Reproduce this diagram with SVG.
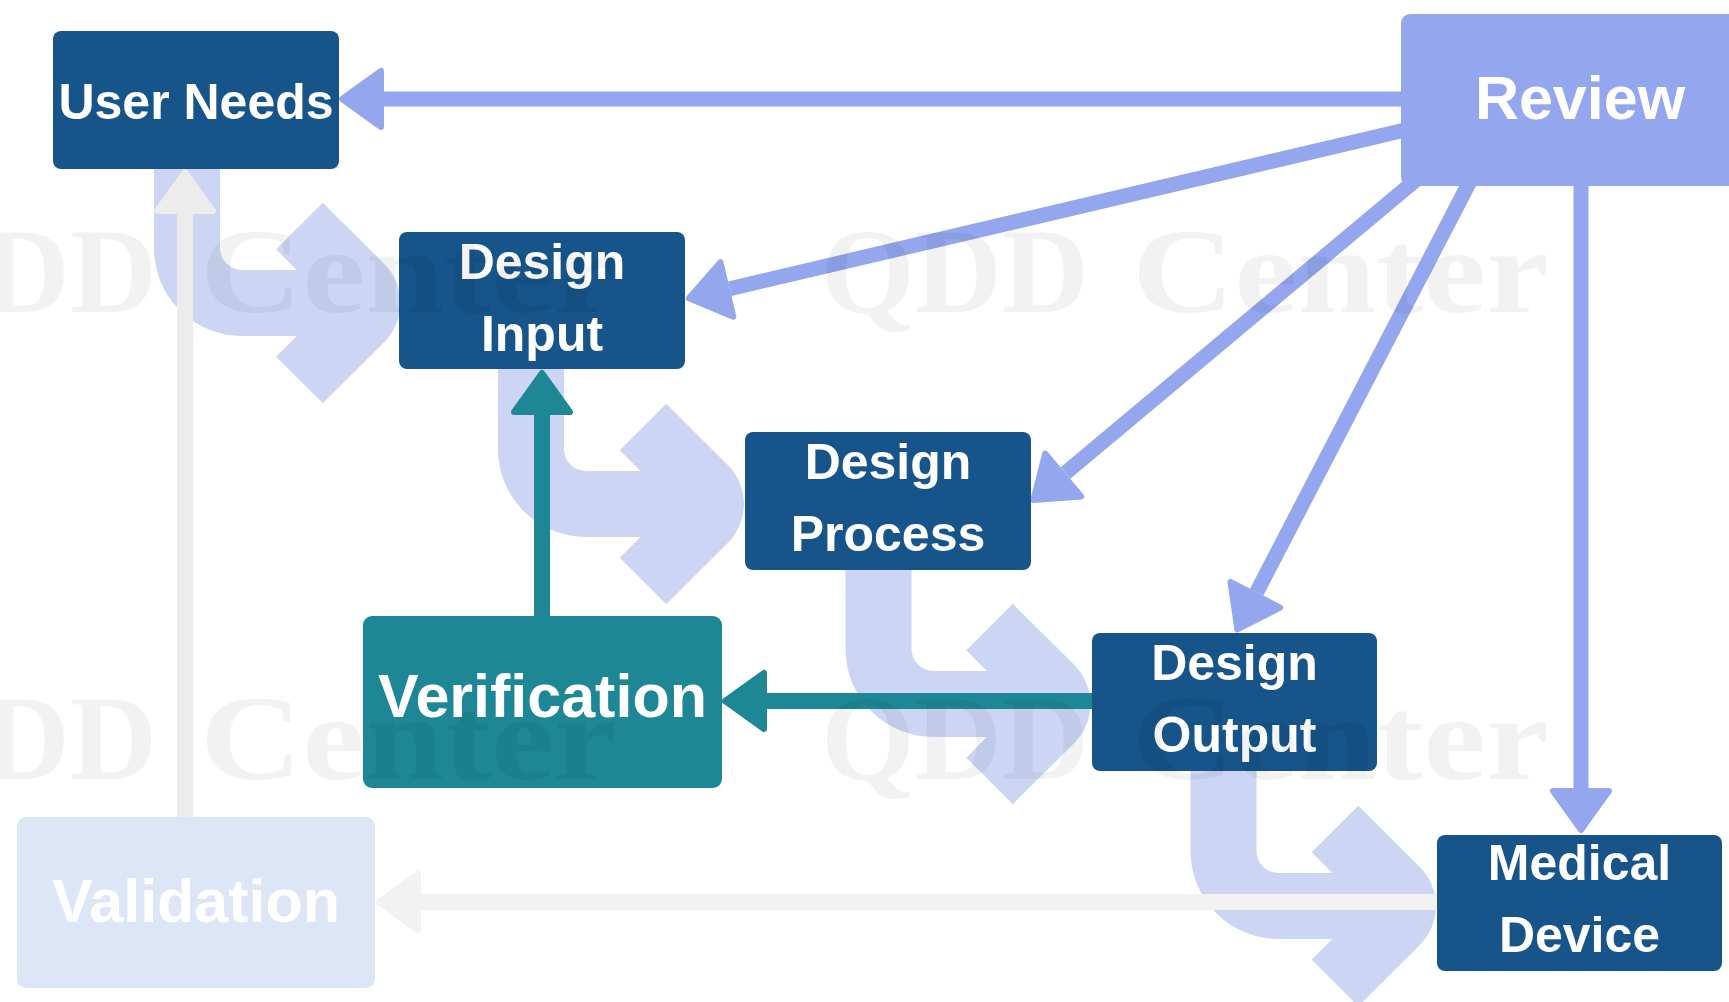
<svg xmlns="http://www.w3.org/2000/svg" width="1729" height="1002" viewBox="0 0 1729 1002">
<defs>
<style>
.hook{fill:none;stroke:#CCD5F3;stroke-width:66;stroke-linecap:butt}
.chev{fill:#CCD5F3;stroke:none}
.lb{fill:none;stroke:#93A6EE;stroke-width:15}
.lt{fill:none;stroke:#1D8795;stroke-width:16}
.lg1{fill:none;stroke:#F2F2F2;stroke-width:16}
.lg2{fill:none;stroke:#ECECEC;stroke-width:16}
.box{fill:#16548A}
.t{font-family:"Liberation Sans",Arial,sans-serif;font-weight:bold;fill:#FFFFFF;text-anchor:middle}
.t50{font-size:50px}
.t61{font-size:61px}
.wm{font-family:"Liberation Serif","Times New Roman",serif;font-weight:bold;font-size:120px;fill:#000000;fill-opacity:0.05}
</style>
<marker id="ab" markerUnits="userSpaceOnUse" markerWidth="60" markerHeight="80" refX="0" refY="0" orient="auto" overflow="visible"><path d="M3,-28 L42,0 L3,28 Z" fill="#93A6EE" stroke="#93A6EE" stroke-width="6" stroke-linejoin="round"/></marker>
<marker id="at" markerUnits="userSpaceOnUse" markerWidth="60" markerHeight="80" refX="0" refY="0" orient="auto" overflow="visible"><path d="M3,-28 L42,0 L3,28 Z" fill="#1D8795" stroke="#1D8795" stroke-width="6" stroke-linejoin="round"/></marker>
<marker id="ag1" markerUnits="userSpaceOnUse" markerWidth="60" markerHeight="80" refX="0" refY="0" orient="auto" overflow="visible"><path d="M3,-28 L42,0 L3,28 Z" fill="#F2F2F2" stroke="#F2F2F2" stroke-width="6" stroke-linejoin="round"/></marker>
<marker id="ag2" markerUnits="userSpaceOnUse" markerWidth="60" markerHeight="80" refX="0" refY="0" orient="auto" overflow="visible"><path d="M3,-28 L42,0 L3,28 Z" fill="#ECECEC" stroke="#ECECEC" stroke-width="6" stroke-linejoin="round"/></marker>
</defs>
<rect width="1729" height="1002" fill="#FFFFFF"/>
<g id="connectors">
<path class="hook" d="M187,169 V248 A55,55 0 0 0 242,303 H356"/>
<path class="chev" d="M322.8,202.7 L384.3,264.1 A55,55 0 0 1 384.3,341.9 L322.8,403.3 L276.2,356.7 L329.8,303 L276.2,249.3 Z"/>
<path class="hook" d="M531,369 V449 A55,55 0 0 0 586,504 H700"/>
<path class="chev" d="M666.3,403.7 L727.8,465.1 A55,55 0 0 1 727.8,542.9 L666.3,604.3 L619.7,557.7 L673.3,504 L619.7,450.3 Z"/>
<path class="hook" d="M878.5,570 V649 A55,55 0 0 0 933.5,704 H1046"/>
<path class="chev" d="M1012.8,603.7 L1074.3,665.1 A55,55 0 0 1 1074.3,742.9 L1012.8,804.3 L966.2,757.7 L1019.8,704 L966.2,650.3 Z"/>
<path class="hook" d="M1223.5,771 V851 A55,55 0 0 0 1278.5,906 H1392"/>
<path class="chev" d="M1358.3,805.7 L1419.8,867.1 A55,55 0 0 1 1419.8,944.9 L1358.3,1006.3 L1311.7,959.7 L1365.3,906 L1311.7,852.3 Z"/>
<line class="lb" x1="1410" y1="99" x2="384" y2="99" marker-end="url(#ab)"/>
<line class="lb" x1="1420" y1="126.5" x2="729.8" y2="288.7" marker-end="url(#ab)"/>
<line class="lb" x1="1420" y1="176.5" x2="1065.5" y2="473.1" marker-end="url(#ab)"/>
<line class="lb" x1="1472.2" y1="177" x2="1256.7" y2="592.1" marker-end="url(#ab)"/>
<line class="lb" x1="1581" y1="180" x2="1581" y2="788" marker-end="url(#ab)"/>
<line class="lt" x1="542" y1="620" x2="542" y2="415" marker-end="url(#at)"/>
<line class="lt" x1="1096" y1="701" x2="767" y2="701" marker-end="url(#at)"/>
<line class="lg1" x1="1441" y1="902" x2="421" y2="902" marker-end="url(#ag1)"/>
<line class="lg2" x1="185" y1="821" x2="185" y2="214" marker-end="url(#ag2)"/>
</g>
<g id="review">
<rect x="1401" y="14" width="360" height="172" rx="9" fill="#93A6EE"/>
<text class="t t61" x="1580" y="119">Review</text>
</g>
<g id="user-needs">
<rect class="box" x="53" y="31" width="286" height="138" rx="8"/>
<text class="t t50" x="196" y="119">User Needs</text>
</g>
<g id="design-input">
<rect class="box" x="399" y="232" width="286" height="137" rx="8"/>
<text class="t t50" x="542" y="279">Design</text>
<text class="t t50" x="542" y="351">Input</text>
</g>
<g id="design-process">
<rect class="box" x="745" y="432" width="286" height="138" rx="8"/>
<text class="t t50" x="888" y="479">Design</text>
<text class="t t50" x="888" y="551">Process</text>
</g>
<g id="design-output">
<rect class="box" x="1092" y="633" width="285" height="138" rx="8"/>
<text class="t t50" x="1234.5" y="680">Design</text>
<text class="t t50" x="1234.5" y="752">Output</text>
</g>
<g id="medical-device">
<rect class="box" x="1437" y="835" width="285" height="136" rx="8"/>
<text class="t t50" x="1579.5" y="880">Medical</text>
<text class="t t50" x="1579.5" y="952">Device</text>
</g>
<g id="verification">
<rect x="363" y="616" width="359" height="172" rx="9" fill="#1D8795"/>
<text class="t t61" x="542.5" y="717">Verification</text>
</g>
<g id="validation">
<rect x="17" y="817" width="358" height="171" rx="9" fill="#DCE6F7"/>
<text class="t t61" x="196" y="922">Validation</text>
</g>
<g id="watermark">
<text class="wm" y="312"><tspan x="-111" textLength="268" lengthAdjust="spacingAndGlyphs">QDD</tspan><tspan x="200" textLength="417" lengthAdjust="spacingAndGlyphs">Center</tspan></text>
<text class="wm" y="312"><tspan x="821" textLength="268" lengthAdjust="spacingAndGlyphs">QDD</tspan><tspan x="1132" textLength="417" lengthAdjust="spacingAndGlyphs">Center</tspan></text>
<text class="wm" y="779"><tspan x="-111" textLength="268" lengthAdjust="spacingAndGlyphs">QDD</tspan><tspan x="200" textLength="417" lengthAdjust="spacingAndGlyphs">Center</tspan></text>
<text class="wm" y="779"><tspan x="821" textLength="268" lengthAdjust="spacingAndGlyphs">QDD</tspan><tspan x="1132" textLength="417" lengthAdjust="spacingAndGlyphs">Center</tspan></text>
</g>
</svg>
